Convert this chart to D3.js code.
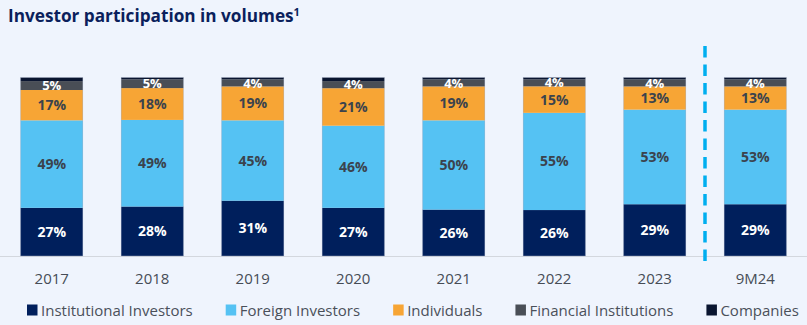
<!DOCTYPE html>
<html><head><meta charset="utf-8">
<script src="https://cdn.jsdelivr.net/npm/d3@7"></script>
<style>
html,body{margin:0;padding:0;background:#eff4fd;}
svg{display:block;}
</style></head>
<body><svg id="c" width="807" height="325"></svg>
<script>
const years = ["2017","2018","2019","2020","2021","2022","2023","9M24"];
const institutional = [27,28,31,27,26,26,29,29];
const foreign       = [49,49,45,46,50,55,53,53];
const individuals   = [17,18,19,21,19,15,13,13];
const financial     = [5,5,4,4,4,4,4,4];
const companies     = [2,1,1,2,1,1,1,1];
const seriesNames = ["Institutional Investors","Foreign Investors","Individuals","Financial Institutions","Companies"];
const colors = ["#001f5c","#55c2f3","#f7a535","#494e56","#0a1530"];
const labelColors = ["#ffffff","#3b434d","#3b434d","#ffffff",null];

const keys = ["inst","for","ind","fin","comp"];
const data = years.map((y,i)=>({year:y,inst:institutional[i],for:foreign[i],ind:individuals[i],fin:financial[i],comp:companies[i]}));

const svg = d3.select("#c");
const font = "'Open Sans', sans-serif";

svg.append("text").attr("x",8).attr("y",22)
  .attr("font-family",font).attr("font-weight",700).attr("font-size",17.2)
  .attr("fill","#0b1f5c")
  .text("Investor participation in volumes")
  .append("tspan").attr("font-size",11).attr("dy",-6).text("1");

const x = d3.scaleBand().domain(years).range([1.5,805.5]).paddingInner(0.378).paddingOuter(0.189);
const y = d3.scaleLinear().domain([0,1]).range([256,77.5]);

const stack = d3.stack().keys(keys).offset(d3.stackOffsetExpand);
const series = stack(data);

// axis line
svg.append("line").attr("x1",0).attr("x2",807).attr("y1",256.5).attr("y2",256.5)
  .attr("stroke","#d3d7de").attr("stroke-width",1.2);

const g = svg.append("g");
series.forEach((s,si)=>{
  g.selectAll(null).data(s).enter().append("rect")
    .attr("x",d=>x(d.data.year))
    .attr("width",x.bandwidth())
    .attr("y",d=>y(d[1]))
    .attr("height",d=>y(d[0])-y(d[1]))
    .attr("fill",colors[si]);
});
// subtle outline
g.selectAll(null).data(data).enter().append("rect")
  .attr("x",d=>x(d.year)+0.25).attr("width",x.bandwidth()-0.5)
  .attr("y",y(1)).attr("height",y(0)-y(1))
  .attr("fill","none").attr("stroke","#aab3c6").attr("stroke-width",0.6).attr("stroke-opacity",0.7);

// labels
series.forEach((s,si)=>{
  if(!labelColors[si]) return;
  g.selectAll(null).data(s).enter().append("text")
    .attr("x",d=>x(d.data.year)+x.bandwidth()/2)
    .attr("y",d=>(y(d[0])+y(d[1]))/2)
    .attr("dy","0.36em")
    .attr("text-anchor","middle")
    .attr("font-family",font).attr("font-weight",700).attr("font-size",si===3?13:14)
    .attr("fill",labelColors[si])
    .text(d=>d.data[keys[si]]+"%");
});

// x axis labels
const xAxis = d3.axisBottom(x).tickSize(0).tickPadding(0);
const ax = svg.append("g").attr("transform","translate(0,273)").call(xAxis);
ax.select(".domain").remove();
ax.selectAll("text").attr("font-family",font).attr("font-size",15).attr("fill","#464c56").attr("dy","0.71em");

// dashed separator
const sepX = x("2023")+x.bandwidth()+(x.step()-x.bandwidth())/2;
svg.append("line").attr("x1",sepX).attr("x2",sepX).attr("y1",46).attr("y2",262)
  .attr("stroke","#00aeef").attr("stroke-width",3.5).attr("stroke-dasharray","11.5,7");

// legend
const lg = svg.append("g");
let lx = 27;
seriesNames.forEach((n,i)=>{
  lg.append("rect").attr("x",lx).attr("y",304.5).attr("width",10.5).attr("height",11).attr("fill",colors[i]);
  const t = lg.append("text").attr("x",lx+14).attr("y",316)
    .attr("font-family",font).attr("font-size",15).attr("fill","#4a505a").text(n);
  lx += 14 + t.node().getComputedTextLength() + 33;
});
</script></body></html>
